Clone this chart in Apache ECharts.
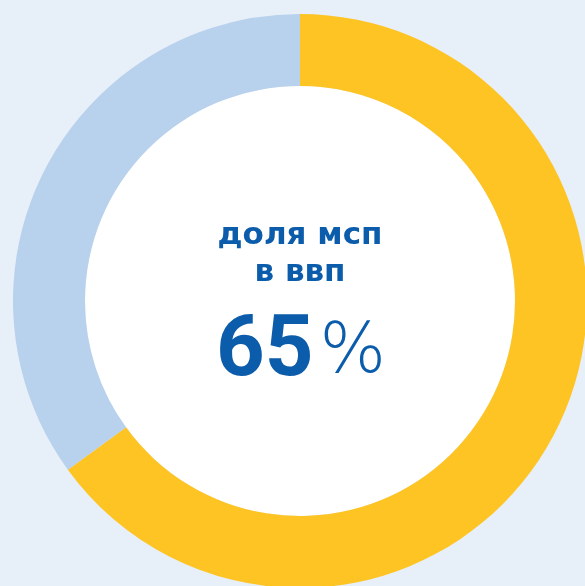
<!DOCTYPE html>
<html>
<head>
<meta charset="utf-8">
<script src="https://cdn.jsdelivr.net/npm/echarts@6/dist/echarts.min.js"></script>
<style>
  html, body { margin: 0; padding: 0; background: #e7eff9; }
  #chart { width: 585px; height: 586px; }
</style>
</head>
<body>
<div id="chart"></div>
<script>
const categories = ['МСП', 'Прочее'];
const values = [65, 35];
const colors = ['#fdc424', '#b8d1ec'];
const titleLines = ['доля мсп', 'в ввп'];
const valueText = '65';

const chart = echarts.init(document.getElementById('chart'));

const titleFont = 'bold 31px "DejaVu Sans"';

const option = {
  backgroundColor: '#e7eff9',
  animation: false,
  graphic: [
    {
      type: 'text',
      x: 300,
      y: 236,
      style: { text: titleLines[0], font: titleFont, fill: '#0b5cab', align: 'center', verticalAlign: 'middle' },
      z: 10
    },
    {
      type: 'text',
      x: 300,
      y: 273,
      style: { text: titleLines[1], font: titleFont, fill: '#0b5cab', align: 'center', verticalAlign: 'middle' },
      z: 10
    },
    {
      type: 'text',
      x: 301,
      y: 354,
      style: {
        text: '{a|' + valueText + '}{b|%}',
        align: 'center',
        verticalAlign: 'middle',
        rich: {
          a: { fontFamily: 'Roboto', fontWeight: 'bold', fontSize: 85, fill: '#0b5cab', color: '#0b5cab' },
          b: { fontFamily: 'DejaVu Sans', fontWeight: 200, fontSize: 70, fill: '#0b5cab', color: '#0b5cab', padding: [0, 0, 0, 6] }
        }
      },
      z: 10
    }
  ],
  series: [
    {
      type: 'pie',
      center: [300, 301],
      radius: [0, 215],
      silent: true,
      label: { show: false },
      data: [{ value: 1, itemStyle: { color: '#ffffff' } }],
      z: 1
    },
    {
      type: 'pie',
      center: [300, 301],
      radius: [215, 287],
      startAngle: 90,
      clockwise: true,
      silent: true,
      label: { show: false },
      labelLine: { show: false },
      itemStyle: { borderWidth: 0 },
      data: categories.map((c, i) => ({ name: c, value: values[i], itemStyle: { color: colors[i] } })),
      z: 2
    }
  ]
};

chart.setOption(option);
</script>
</body>
</html>
